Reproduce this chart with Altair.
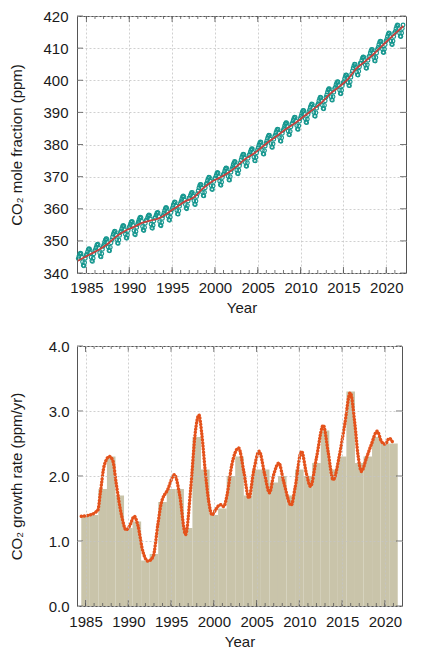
import altair as alt
import pandas as pd

FONT = "Liberation Sans"

# ---------------- data ----------------
years = list(range(1984, 2022))
# monthly global mean CO2 (ppm), Jan..Dec, one row per year
monthly_co2 = [
    [344.5, 345.2, 345.9, 346.2, 346.0, 344.9, 343.5, 342.4, 342.2, 343.2, 344.6, 345.5],
    [345.9, 346.6, 347.3, 347.6, 347.4, 346.3, 344.9, 343.8, 343.6, 344.6, 346.0, 346.9],
    [347.3, 348.0, 348.7, 349.0, 348.8, 347.7, 346.3, 345.2, 345.0, 346.0, 347.4, 348.3],
    [348.9, 349.7, 350.3, 350.7, 350.6, 349.5, 348.1, 347.0, 346.9, 348.0, 349.4, 350.3],
    [351.2, 352.0, 352.6, 353.0, 352.9, 351.8, 350.4, 349.3, 349.2, 350.3, 351.7, 352.6],
    [353.1, 353.8, 354.5, 354.8, 354.6, 353.5, 352.1, 351.0, 350.8, 351.8, 353.2, 354.1],
    [354.5, 355.2, 355.8, 356.1, 355.9, 354.8, 353.2, 352.1, 351.9, 352.9, 354.2, 355.1],
    [355.8, 356.5, 357.1, 357.4, 357.2, 356.1, 354.5, 353.4, 353.2, 354.2, 355.5, 356.4],
    [356.5, 357.2, 357.8, 358.1, 357.9, 356.8, 355.2, 354.1, 353.9, 354.9, 356.2, 357.1],
    [357.3, 358.0, 358.6, 358.9, 358.7, 357.6, 356.0, 354.9, 354.7, 355.7, 357.0, 357.9],
    [358.7, 359.4, 360.1, 360.4, 360.2, 359.1, 357.7, 356.6, 356.4, 357.4, 358.8, 359.7],
    [360.3, 361.1, 361.7, 362.1, 362.0, 360.9, 359.5, 358.4, 358.3, 359.4, 360.8, 361.7],
    [362.3, 363.0, 363.7, 364.0, 363.8, 362.7, 361.3, 360.2, 360.0, 361.0, 362.4, 363.3],
    [363.3, 364.1, 364.7, 365.1, 365.0, 363.9, 362.5, 361.4, 361.3, 362.4, 363.8, 364.7],
    [365.6, 366.5, 367.2, 367.6, 367.5, 366.5, 365.1, 364.1, 364.0, 365.1, 366.5, 367.6],
    [368.0, 368.8, 369.4, 369.8, 369.7, 368.6, 367.2, 366.1, 366.0, 367.1, 368.5, 369.4],
    [369.6, 370.3, 371.0, 371.3, 371.1, 370.0, 368.6, 367.5, 367.3, 368.3, 369.7, 370.6],
    [370.9, 371.7, 372.3, 372.7, 372.6, 371.5, 370.1, 369.0, 368.9, 370.0, 371.4, 372.3],
    [372.9, 373.7, 374.3, 374.7, 374.6, 373.5, 372.1, 371.0, 370.9, 372.0, 373.4, 374.3],
    [375.2, 376.0, 376.6, 377.0, 376.9, 375.8, 374.4, 373.3, 373.2, 374.3, 375.7, 376.6],
    [376.9, 377.7, 378.3, 378.7, 378.6, 377.5, 376.1, 375.0, 374.9, 376.0, 377.4, 378.3],
    [379.0, 379.8, 380.4, 380.8, 380.7, 379.6, 378.2, 377.1, 377.0, 378.1, 379.5, 380.4],
    [381.1, 381.9, 382.5, 382.9, 382.8, 381.7, 380.3, 379.2, 379.1, 380.2, 381.6, 382.5],
    [383.0, 383.8, 384.4, 384.8, 384.7, 383.6, 382.2, 381.1, 381.0, 382.1, 383.5, 384.4],
    [385.0, 385.8, 386.4, 386.8, 386.7, 385.6, 384.2, 383.1, 383.0, 384.1, 385.5, 386.4],
    [386.7, 387.5, 388.1, 388.5, 388.4, 387.3, 385.9, 384.8, 384.7, 385.8, 387.2, 388.1],
    [388.8, 389.6, 390.2, 390.6, 390.5, 389.4, 388.0, 386.9, 386.8, 387.9, 389.3, 390.2],
    [390.8, 391.6, 392.2, 392.6, 392.5, 391.4, 390.0, 388.9, 388.8, 389.9, 391.3, 392.2],
    [392.7, 393.6, 394.3, 394.7, 394.6, 393.6, 392.2, 391.2, 391.1, 392.2, 393.6, 394.7],
    [395.4, 396.3, 397.0, 397.4, 397.3, 396.3, 394.9, 393.9, 393.8, 394.9, 396.3, 397.4],
    [397.8, 398.6, 399.2, 399.6, 399.5, 398.4, 397.0, 395.9, 395.8, 396.9, 398.3, 399.2],
    [399.6, 400.5, 401.2, 401.7, 401.6, 400.7, 399.3, 398.4, 398.3, 399.5, 400.9, 402.0],
    [402.9, 403.8, 404.5, 405.0, 404.9, 404.0, 402.6, 401.7, 401.6, 402.8, 404.2, 405.3],
    [405.3, 406.2, 406.9, 407.3, 407.2, 406.2, 404.8, 403.8, 403.7, 404.8, 406.2, 407.3],
    [407.6, 408.5, 409.2, 409.6, 409.5, 408.5, 407.1, 406.1, 406.0, 407.1, 408.5, 409.6],
    [410.2, 411.1, 411.8, 412.2, 412.1, 411.1, 409.7, 408.7, 408.6, 409.7, 411.1, 412.2],
    [412.7, 413.6, 414.3, 414.7, 414.6, 413.6, 412.2, 411.2, 411.1, 412.2, 413.6, 414.7],
    [415.2, 416.1, 416.8, 417.2, 417.1, 416.1, 414.7, 413.7, 413.6, 414.7, 416.1, 417.2],
]
# deseasonalised trend (ppm)
trend_years = [1984.0] + [y + 0.5 for y in years] + [2022.0]
trend_ppm = [343.8, 344.5, 345.9, 347.3, 349.1, 351.4, 353.1, 354.3, 355.6, 356.3,
             357.1, 358.7, 360.5, 362.3, 363.5, 366.1, 368.2, 369.6, 371.1, 373.1,
             375.4, 377.1, 379.2, 381.3, 383.2, 385.2, 386.9, 389.0, 391.0, 393.2,
             395.9, 398.0, 400.3, 403.6, 405.8, 408.1, 410.7, 413.2, 415.7, 416.9]

# annual increase (ppm/yr)
bar_years = list(range(1985, 2022))
bar_growth = [1.4, 1.4, 1.8, 2.3, 1.7, 1.2, 1.3, 0.7, 0.8, 1.6,
              1.8, 1.8, 1.2, 2.6, 2.1, 1.4, 1.5, 2.0, 2.3, 1.7,
              2.1, 2.1, 1.9, 2.0, 1.7, 2.1, 2.0, 2.2, 2.7, 2.1,
              2.3, 3.3, 2.2, 2.3, 2.6, 2.5, 2.5]

# smoothed growth rate curve
curve_years = [1984.5, 1985.5, 1986.45, 1986.7, 1987.2, 1987.8, 1988.2, 1988.6, 1989.2, 1989.75,
               1990.15, 1990.7, 1991.1, 1991.7, 1992.3, 1992.9, 1993.45, 1993.85, 1994.6, 1995.4,
               1996.0, 1996.7, 1997.3, 1997.85, 1998.25, 1998.6, 1999.0, 1999.4, 1999.8, 2000.2,
               2000.75, 2001.15, 2001.55, 2002.1, 2002.9, 2003.5, 2004.1, 2004.65, 2005.3, 2005.95,
               2006.5, 2007.0, 2007.6, 2008.15, 2009.05, 2009.5, 2010.25, 2010.85, 2011.3, 2012.0,
               2012.8, 2013.35, 2013.95, 2014.7, 2015.3, 2015.95, 2016.5, 2016.85, 2017.25, 2017.85,
               2018.4, 2019.1, 2019.6, 2020.05, 2020.5, 2020.95]
curve_rate = [1.38, 1.40, 1.48, 1.71, 2.17, 2.30, 2.23, 1.87, 1.40, 1.17,
              1.23, 1.38, 1.25, 0.84, 0.69, 0.76, 1.25, 1.58, 1.79, 2.02,
              1.71, 1.10, 1.82, 2.69, 2.94, 2.64, 2.07, 1.61, 1.40, 1.48,
              1.56, 1.53, 1.71, 2.17, 2.43, 2.07, 1.66, 2.07, 2.38, 2.02,
              1.74, 2.02, 2.20, 1.92, 1.55, 1.82, 2.38, 2.02, 1.84, 2.28,
              2.78, 2.38, 1.94, 2.33, 2.79, 3.28, 2.79, 2.33, 2.07, 2.28,
              2.48, 2.69, 2.53, 2.49, 2.58, 2.51]

year_ticks = [1985, 1990, 1995, 2000, 2005, 2010, 2015, 2020]
minor_years = list(range(1985, 2022))
ppm_ticks = [340, 350, 360, 370, 380, 390, 400, 410, 420]
rate_ticks = [0.0, 1.0, 2.0, 3.0, 4.0]

# ---------------- tables ----------------
rows = []
for y, vals in zip(years, monthly_co2):
    for m, v in enumerate(vals):
        rows.append({"t": y + (m + 0.5) / 12.0, "ppm": v})
df_month = pd.DataFrame(rows)
df_trend = pd.DataFrame({"t": trend_years, "ppm": trend_ppm})
df_bars = pd.DataFrame({"year": bar_years, "g": bar_growth})
df_curve = pd.DataFrame({"t": curve_years, "rate": curve_rate})
df_minor = pd.DataFrame({"yr": minor_years})
df_major = pd.DataFrame({"yr": year_ticks})

TW, TH = 329, 257
BW, BH = 325, 260
TICK = "#555555"


def tick_layers(xscale, yscale, xaxis, yaxis, yvals, w, h):
    dfy = pd.DataFrame({"v": yvals})
    xs = alt.X("yr:Q", scale=xscale, axis=xaxis)
    ys = alt.Y("v:Q", scale=yscale, axis=yaxis)
    r = dict(color=TICK, strokeWidth=0.8)
    return [
        alt.Chart(df_minor).mark_rule(**r).encode(x=xs, y=alt.value(0), y2=alt.value(3)),
        alt.Chart(df_minor).mark_rule(**r).encode(x=xs, y=alt.value(h - 3), y2=alt.value(h)),
        alt.Chart(df_major).mark_rule(**r).encode(x=xs, y=alt.value(0), y2=alt.value(6)),
        alt.Chart(df_major).mark_rule(**r).encode(x=xs, y=alt.value(h - 6), y2=alt.value(h)),
        alt.Chart(dfy).mark_rule(**r).encode(y=ys, x=alt.value(0), x2=alt.value(6)),
        alt.Chart(dfy).mark_rule(**r).encode(y=ys, x=alt.value(w - 6), x2=alt.value(w)),
    ]


# ---------------- top panel ----------------
x_top = alt.Scale(domain=[1983.9, 2022.3], nice=False, zero=False)
y_top = alt.Scale(domain=[340, 420], nice=False, zero=False)

x_axis_top = alt.Axis(values=year_ticks, format="d", title="Year", labelPadding=7, titlePadding=5)
y_axis_top = alt.Axis(values=ppm_ticks, format="d", title="CO₂ mole fraction (ppm)",
                      labelPadding=9, minExtent=35, maxExtent=35, titlePadding=18)

points = alt.Chart(df_month).mark_point(
    shape="circle", filled=False, size=13, color="#16978f", strokeWidth=1.2, opacity=1
).encode(
    x=alt.X("t:Q", scale=x_top, axis=x_axis_top),
    y=alt.Y("ppm:Q", scale=y_top, axis=y_axis_top),
)
trend = alt.Chart(df_trend).mark_line(color="#c8403c", strokeWidth=1.8, interpolate="monotone").encode(
    x=alt.X("t:Q", scale=x_top, axis=x_axis_top),
    y=alt.Y("ppm:Q", scale=y_top, axis=y_axis_top),
)
top = alt.layer(
    points, trend, *tick_layers(x_top, y_top, x_axis_top, y_axis_top, ppm_ticks, TW, TH)
).properties(width=TW, height=TH)

# ---------------- bottom panel ----------------
x_bot = alt.Scale(domain=[1984, 2022], nice=False, zero=False)
y_bot = alt.Scale(domain=[0, 4], nice=False)

x_axis_bot = alt.Axis(values=year_ticks, format="d", title="Year", labelPadding=8, titlePadding=5, zindex=1)
y_axis_bot = alt.Axis(values=rate_ticks, format=".1f", title="CO₂ growth rate (ppm/yr)",
                      labelPadding=8, minExtent=35, maxExtent=35, titlePadding=18, zindex=1)

bars = alt.Chart(df_bars).transform_calculate(
    x0="datum.year - 0.5", x1="datum.year + 0.5"
).mark_rect(color="#c9c4aa").encode(
    x=alt.X("x0:Q", scale=x_bot, axis=x_axis_bot),
    x2="x1:Q",
    y=alt.Y("g:Q", scale=y_bot, axis=y_axis_bot),
    y2=alt.datum(0),
)
curve_line = alt.Chart(df_curve).mark_line(color="#e4521b", strokeWidth=1.3, interpolate="monotone").encode(
    x=alt.X("t:Q", scale=x_bot, axis=x_axis_bot),
    y=alt.Y("rate:Q", scale=y_bot, axis=y_axis_bot),
)
curve_dots = alt.Chart(df_curve).mark_line(
    color="#e4521b", strokeWidth=3.4, interpolate="monotone", strokeDash=[0.1, 3.0], strokeCap="round"
).encode(
    x=alt.X("t:Q", scale=x_bot, axis=x_axis_bot),
    y=alt.Y("rate:Q", scale=y_bot, axis=y_axis_bot),
)
bottom = alt.layer(
    bars, curve_line, curve_dots, *tick_layers(x_bot, y_bot, x_axis_bot, y_axis_bot, rate_ticks, BW, BH)
).properties(width=BW, height=BH)

chart = alt.vconcat(top, bottom, spacing=22).properties(
    padding={"left": 0, "top": 0, "right": 2, "bottom": 0}
).configure_axis(
    labelFont=FONT, titleFont=FONT, labelFontSize=15, titleFontSize=15,
    titleFontWeight="normal", labelColor="#1a1a1a", titleColor="#1a1a1a",
    grid=True, gridColor="#c4c4c4", gridDash=[2, 2], gridWidth=0.8,
    ticks=False, domain=False,
).configure_view(stroke="#555555", strokeWidth=1)

chart.save("out.html", embed_options={"renderer": "svg", "actions": False})
